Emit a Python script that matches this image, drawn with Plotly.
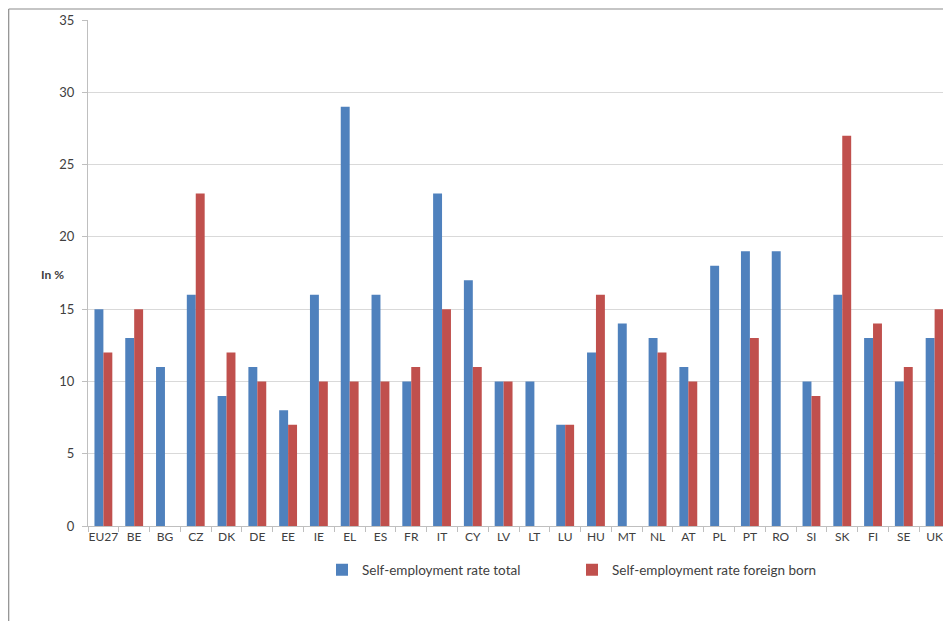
import plotly.graph_objects as go

countries = ["EU27", "BE", "BG", "CZ", "DK", "DE", "EE", "IE", "EL", "ES", "FR", "IT", "CY", "LV",
             "LT", "LU", "HU", "MT", "NL", "AT", "PL", "PT", "RO", "SI", "SK", "FI", "SE", "UK"]
rate_total = [15, 13, 11, 16, 9, 11, 8, 16, 29, 16, 10, 23, 17, 10,
              10, 7, 12, 14, 13, 11, 18, 19, 19, 10, 16, 13, 10, 13]
rate_foreign = [12, 15, None, 23, 12, 10, 7, 10, 10, 10, 11, 15, 11, 10,
                None, 7, 16, None, 12, 10, None, 13, None, 9, 27, 14, 11, 15]
y_ticks = [0, 5, 10, 15, 20, 25, 30, 35]

BLUE = "#4F81BD"
RED = "#C0504D"
TXT = "#404040"
FONT = "Lato"

fig = go.Figure()

fig.add_trace(go.Bar(
    x=countries,
    y=rate_total,
    name="Self-employment rate total",
    marker=dict(color=BLUE, line=dict(width=0)),
))

fig.add_trace(go.Bar(
    x=countries,
    y=rate_foreign,
    name="Self-employment rate foreign born",
    marker=dict(color=RED, line=dict(width=0)),
))

# la página añade 8px de margen arriba/izquierda: todo en coords de figura
OFF = 8
W, H = 951 - OFF, 621 - OFF
L, R, T, B = 80, 1, 12, 95
pw, ph = W - L - R, H - T - B

def px_x(p):
    # p en px de la página
    return (p - OFF - L) / pw

def px_y(p):
    return (H - B - (p - OFF)) / ph

# marco exterior del gráfico (recortado a la derecha y abajo)
fig.add_shape(type="line", xref="paper", yref="paper",
              x0=px_x(8.7), x1=px_x(960), y0=px_y(9), y1=px_y(9),
              line=dict(color="#8C8C8C", width=1.2))
fig.add_shape(type="line", xref="paper", yref="paper",
              x0=px_x(8.7), x1=px_x(8.7), y0=px_y(9), y1=px_y(630),
              line=dict(color="#8C8C8C", width=1.2))

fig.add_annotation(
    text="<b>In %</b>", xref="paper", yref="paper",
    x=px_x(39), y=px_y(274), showarrow=False,
    font=dict(family=FONT, size=12, color=TXT),
)

fig.update_layout(
    width=W,
    height=H,
    margin=dict(l=L, r=R, t=T, b=B, autoexpand=False),
    paper_bgcolor="white",
    plot_bgcolor="white",
    barmode="group",
    bargap=0.42,
    bargroupgap=0,
    font=dict(family=FONT, size=12, color=TXT),
    xaxis=dict(
        type="category",
        automargin=False,
        tickangle=0,
        showline=True,
        linecolor="#BFBFBF",
        linewidth=1,
        ticks="outside",
        tickson="boundaries",
        ticklen=5,
        tickcolor="#BFBFBF",
        showgrid=False,
        tickfont=dict(family=FONT, size=12, color=TXT),
    ),
    yaxis=dict(
        range=[0, 35],
        tickvals=y_ticks,
        automargin=False,
        showline=True,
        linecolor="#BFBFBF",
        linewidth=1,
        ticks="outside",
        ticklen=5,
        tickcolor="#BFBFBF",
        ticklabelstandoff=5,
        showgrid=True,
        gridcolor="#D9D9D9",
        gridwidth=1,
        zeroline=False,
        tickfont=dict(family=FONT, size=13, color=TXT),
    ),
    legend=dict(
        orientation="h",
        x=px_x(322),
        xanchor="left",
        y=px_y(570),
        yanchor="middle",
        entrywidth=205,
        font=dict(family=FONT, size=13.5, color=TXT),
        itemwidth=30,
    ),
)

fig.write_html("out.html")
